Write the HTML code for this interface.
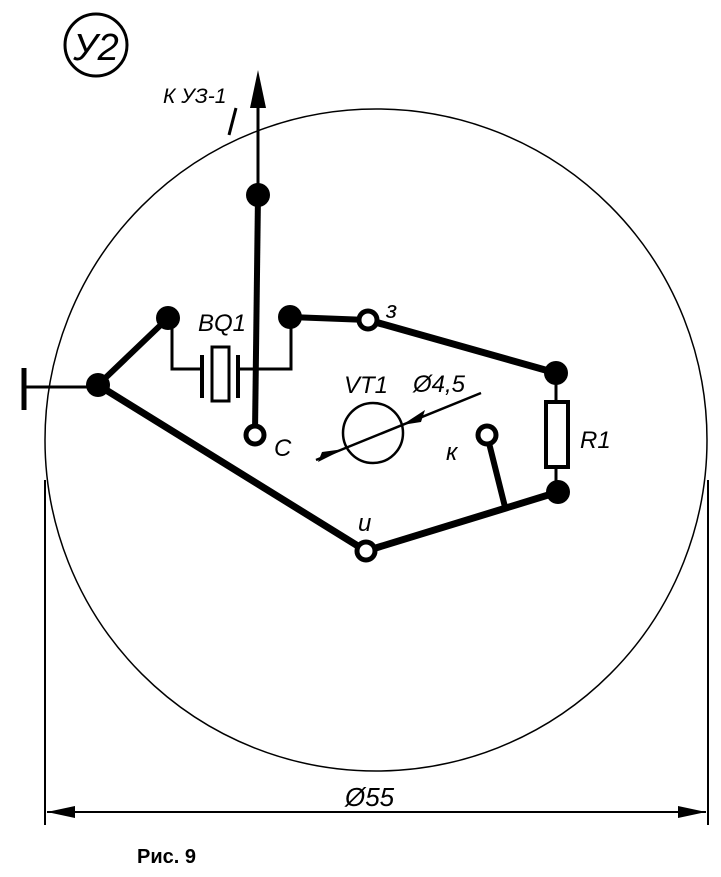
<!DOCTYPE html>
<html><head><meta charset="utf-8"><style>body{margin:0;background:#fff}svg{display:block}text{font-family:"Liberation Sans",sans-serif;font-style:italic;fill:#000}</style></head><body>
<svg width="721" height="877" viewBox="0 0 721 877">
<circle cx="96" cy="45" r="31" fill="none" stroke="#000" stroke-width="3"/>
<text x="96" y="60" font-size="38" text-anchor="middle">У2</text>
<circle cx="376" cy="440" r="331" fill="none" stroke="#000" stroke-width="1.5"/>
<line x1="258" y1="95" x2="258" y2="195" stroke="#000" stroke-width="3"/>
<polygon points="258,70 250,108 266,108" fill="#000"/>
<text x="163" y="103" font-size="21">К УЗ-1</text>
<line x1="236" y1="108" x2="229" y2="135" stroke="#000" stroke-width="3"/>
<line x1="258" y1="195" x2="255" y2="432" stroke="#000" stroke-width="6"/>
<circle cx="258" cy="195" r="12" fill="#000"/>
<circle cx="255" cy="435" r="9" fill="#fff" stroke="#000" stroke-width="5"/>
<text x="274" y="456" font-size="24">C</text>
<polyline points="172,318 172,369 202,369" fill="none" stroke="#000" stroke-width="3"/>
<polyline points="291,317 291,369 237,369" fill="none" stroke="#000" stroke-width="3"/>
<line x1="202" y1="355" x2="202" y2="398" stroke="#000" stroke-width="4"/>
<line x1="238" y1="355" x2="238" y2="398" stroke="#000" stroke-width="4"/>
<rect x="212" y="347" width="17" height="54" fill="#fff" stroke="#000" stroke-width="3"/>
<text x="198" y="331" font-size="24">BQ1</text>
<line x1="24" y1="368" x2="24" y2="410" stroke="#000" stroke-width="5"/>
<line x1="24" y1="387" x2="98" y2="387" stroke="#000" stroke-width="3"/>
<line x1="98" y1="385" x2="168" y2="318" stroke="#000" stroke-width="6"/>
<line x1="98" y1="385" x2="366" y2="551" stroke="#000" stroke-width="7"/>
<circle cx="168" cy="318" r="12" fill="#000"/>
<circle cx="98" cy="385" r="12" fill="#000"/>
<line x1="290" y1="317" x2="368" y2="320" stroke="#000" stroke-width="6"/>
<line x1="368" y1="320" x2="556" y2="373" stroke="#000" stroke-width="7"/>
<line x1="366" y1="551" x2="558" y2="492" stroke="#000" stroke-width="7"/>
<line x1="487" y1="435" x2="505" y2="507" stroke="#000" stroke-width="6"/>
<line x1="556" y1="373" x2="556" y2="492" stroke="#000" stroke-width="3"/>
<rect x="546" y="402" width="22" height="65" fill="#fff" stroke="#000" stroke-width="4"/>
<circle cx="290" cy="317" r="12" fill="#000"/>
<circle cx="556" cy="373" r="12" fill="#000"/>
<circle cx="558" cy="492" r="12" fill="#000"/>
<circle cx="368" cy="320" r="9" fill="#fff" stroke="#000" stroke-width="5"/>
<circle cx="487" cy="435" r="9" fill="#fff" stroke="#000" stroke-width="5"/>
<circle cx="366" cy="551" r="9" fill="#fff" stroke="#000" stroke-width="5"/>
<text x="386" y="318" font-size="24">з</text>
<text x="446" y="460" font-size="24">к</text>
<text x="358" y="531" font-size="24">и</text>
<text x="580" y="448" font-size="24">R1</text>
<circle cx="373" cy="433" r="30" fill="none" stroke="#000" stroke-width="2.5"/>
<line x1="316" y1="460" x2="481" y2="393" stroke="#000" stroke-width="2.5"/>
<polygon points="402,425 425,410 421,422" fill="#000"/>
<polygon points="344,449 318,462 322,452" fill="#000"/>
<text x="344" y="393" font-size="24">VT1</text>
<text x="413" y="392" font-size="24">Ø4,5</text>
<line x1="45" y1="480" x2="45" y2="825" stroke="#000" stroke-width="2"/>
<line x1="708" y1="480" x2="708" y2="825" stroke="#000" stroke-width="2"/>
<line x1="47" y1="812" x2="706" y2="812" stroke="#000" stroke-width="2"/>
<polygon points="47,812 75,806 75,818" fill="#000"/>
<polygon points="706,812 678,806 678,818" fill="#000"/>
<text x="345" y="806" font-size="26">Ø55</text>
<text x="137" y="863" font-size="20" font-weight="bold" style="font-style:normal">Рис. 9</text>
</svg>
</body></html>
